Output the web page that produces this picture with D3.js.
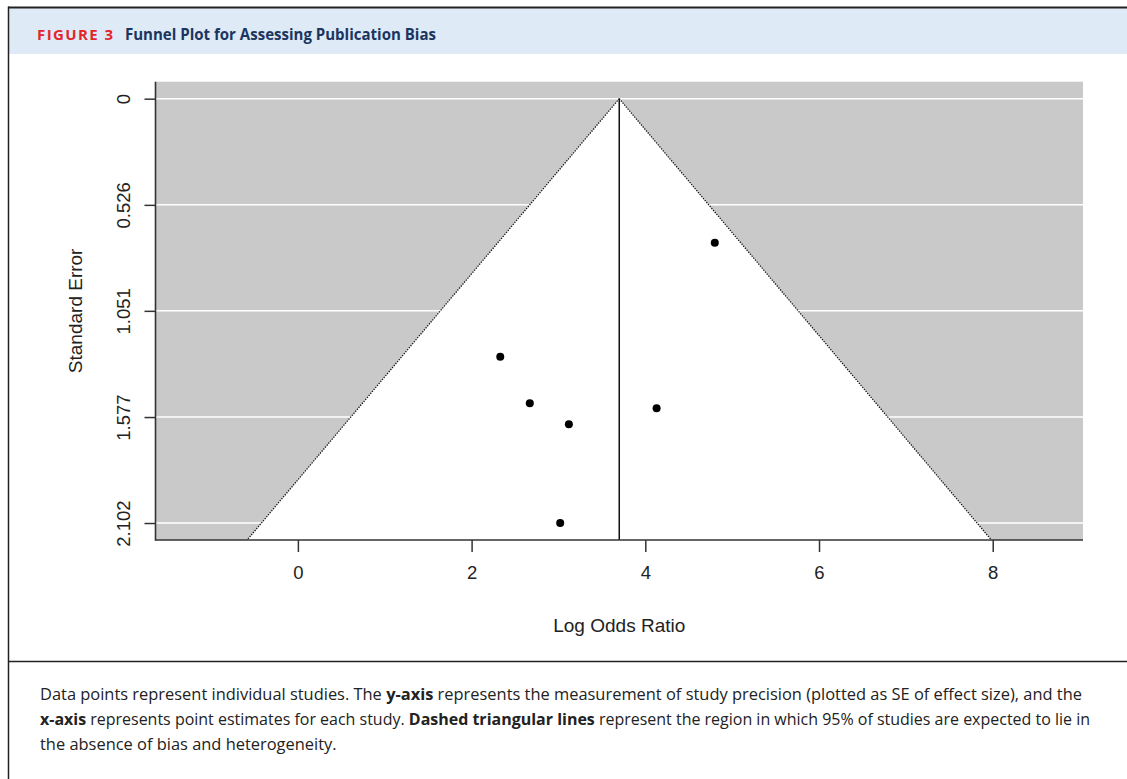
<!DOCTYPE html>
<html>
<head>
<meta charset="utf-8">
<script src="https://cdn.jsdelivr.net/npm/d3@7"></script>
<style>
  html, body { margin: 0; padding: 0; background: #ffffff; }
  svg { display: block; }
</style>
</head>
<body>
<svg id="chart" width="1127" height="779"></svg>
<script>
// ---------- data ----------
const studyLabels   = ["Study 1", "Study 2", "Study 3", "Study 4", "Study 5", "Study 6"];
const logOddsRatios = [2.33, 2.67, 3.12, 3.02, 4.13, 4.80];
const standardErrors = [1.278, 1.509, 1.613, 2.102, 1.534, 0.714];
const pooledEstimate = 3.70;
const yTickValues = [0, 0.526, 1.051, 1.577, 2.102];
const yTickLabels = ["0", "0.526", "1.051", "1.577", "2.102"];
const xTickValues = [0, 2, 4, 6, 8];
const xTitle = "Log Odds Ratio";
const yTitle = "Standard Error";
const figureLabel = "FIGURE 3";
const figureTitle = "Funnel Plot for Assessing Publication Bias";
const captionLines = [
  [["Data points represent individual studies. The ", false], ["y-axis", true], [" represents the measurement of study precision (plotted as SE of effect size), and the", false]],
  [["x-axis", true], [" represents point estimates for each study. ", false], ["Dashed triangular lines", true], [" represent the region in which 95% of studies are expected to lie in", false]],
  [["the absence of bias and heterogeneity.", false]]
];

// ---------- layout ----------
const svg = d3.select("#chart");
const W = 1127, H = 779;
const plot = { left: 155.5, right: 1083, top: 81.7, bottom: 540 };

// frame + header
svg.append("rect").attr("x", 8).attr("y", 8).attr("width", W - 8).attr("height", 46).attr("fill", "#deeaf6");
svg.append("line").attr("x1", 8).attr("x2", W).attr("y1", 7.5).attr("y2", 7.5).attr("stroke", "#222").attr("stroke-width", 2);
svg.append("line").attr("x1", 8.5).attr("x2", 8.5).attr("y1", 6.5).attr("y2", H).attr("stroke", "#222").attr("stroke-width", 1.5);
svg.append("line").attr("x1", 8).attr("x2", W).attr("y1", 661.5).attr("y2", 661.5).attr("stroke", "#222").attr("stroke-width", 1.5);

svg.append("text").attr("x", 37).attr("y", 39.5)
  .attr("font-family", "'Open Sans', 'Noto Sans', sans-serif").attr("font-weight", 700)
  .attr("font-size", 15).attr("fill", "#e2262c")
  .attr("textLength", 76).attr("lengthAdjust", "spacing")
  .text(figureLabel);
svg.append("text").attr("x", 125).attr("y", 39.5)
  .attr("font-family", "'Open Sans', 'Noto Sans', sans-serif").attr("font-weight", 700)
  .attr("font-size", 16).attr("fill", "#1b3560")
  .attr("textLength", 311).attr("lengthAdjust", "spacingAndGlyphs")
  .text(figureTitle);

// ---------- scales (R / metafor style limits) ----------
const maxSE = d3.max(standardErrors);
let xl = [
  Math.min(d3.min(logOddsRatios), pooledEstimate - 1.96 * maxSE),
  Math.max(d3.max(logOddsRatios), pooledEstimate + 1.96 * maxSE)
];
let rx = xl[1] - xl[0];
xl = [xl[0] - 0.1 * rx, xl[1] + 0.1 * rx];
rx = xl[1] - xl[0];
xl = [xl[0] - 0.04 * rx, xl[1] + 0.04 * rx];
const yl = [0 - 0.04 * maxSE, maxSE + 0.04 * maxSE];

const x = d3.scaleLinear().domain(xl).range([plot.left, plot.right]);
const y = d3.scaleLinear().domain(yl).range([plot.top, plot.bottom]);

const g = svg.append("g");

// gray background
g.append("rect")
  .attr("x", x(xl[0])).attr("y", y(yl[0]))
  .attr("width", x(xl[1]) - x(xl[0])).attr("height", y(yl[1]) - y(yl[0]))
  .attr("fill", "#c9c9c9");

// white grid lines
g.selectAll("line.grid").data(yTickValues).join("line")
  .attr("class", "grid")
  .attr("x1", x(xl[0])).attr("x2", x(xl[1]))
  .attr("y1", d => y(d)).attr("y2", d => y(d))
  .attr("stroke", "#ffffff").attr("stroke-width", 1.5);

// white funnel region
const seBottom = yl[1];
const funnelPts = [
  [pooledEstimate, 0],
  [pooledEstimate + 1.96 * seBottom, seBottom],
  [pooledEstimate - 1.96 * seBottom, seBottom]
];
g.append("path")
  .attr("d", d3.line().x(d => x(d[0])).y(d => y(d[1]))(funnelPts) + "Z")
  .attr("fill", "#ffffff");

// dotted funnel edges
[[funnelPts[0], funnelPts[1]], [funnelPts[0], funnelPts[2]]].forEach(seg => {
  g.append("line")
    .attr("x1", x(seg[0][0])).attr("y1", y(seg[0][1]))
    .attr("x2", x(seg[1][0])).attr("y2", y(seg[1][1]))
    .attr("stroke", "#111").attr("stroke-width", 1.3)
    .attr("stroke-dasharray", "1.3,1.3");
});

// vertical line at pooled estimate
g.append("line")
  .attr("x1", x(pooledEstimate)).attr("x2", x(pooledEstimate))
  .attr("y1", y(0)).attr("y2", y(yl[1]))
  .attr("stroke", "#111").attr("stroke-width", 1.5);

// points
g.selectAll("circle.pt").data(logOddsRatios.map((v, i) => ({ lab: studyLabels[i], x: v, se: standardErrors[i] })))
  .join("circle").attr("class", "pt")
  .attr("cx", d => x(d.x)).attr("cy", d => y(d.se))
  .attr("r", 4).attr("fill", "#000");

// axis box lines (L-shaped)
g.append("line").attr("x1", plot.left).attr("x2", plot.left).attr("y1", plot.top).attr("y2", plot.bottom + 0.8)
  .attr("stroke", "#333").attr("stroke-width", 1.6);
g.append("line").attr("x1", plot.left).attr("x2", plot.right).attr("y1", plot.bottom).attr("y2", plot.bottom)
  .attr("stroke", "#333").attr("stroke-width", 1.6);

// axes
const fontFam = "'Liberation Sans', Arial, sans-serif";
const xAxis = d3.axisBottom(x).tickValues(xTickValues).tickFormat(d3.format("d")).tickSize(12).tickPadding(14);
const xg = svg.append("g").attr("transform", `translate(0,${plot.bottom})`).call(xAxis);
xg.select(".domain").remove();
xg.selectAll(".tick line").attr("stroke", "#333").attr("stroke-width", 1.5);
xg.selectAll(".tick text").attr("font-family", fontFam).attr("font-size", 18.5).attr("fill", "#222");

const yAxis = d3.axisLeft(y).tickValues(yTickValues).tickFormat((d, i) => yTickLabels[i]).tickSize(11).tickPadding(0);
const yg = svg.append("g").attr("transform", `translate(${plot.left},0)`).call(yAxis);
yg.select(".domain").remove();
yg.selectAll(".tick line").attr("stroke", "#333").attr("stroke-width", 1.5);
yg.selectAll(".tick text")
  .attr("font-family", fontFam).attr("font-size", 18.5).attr("fill", "#222")
  .attr("x", null).attr("dy", null)
  .attr("text-anchor", "middle")
  .attr("transform", "translate(-26,0) rotate(-90)");

// axis titles
svg.append("text").attr("x", (plot.left + plot.right) / 2).attr("y", 632)
  .attr("text-anchor", "middle").attr("font-family", fontFam).attr("font-size", 19).attr("fill", "#222")
  .text(xTitle);
svg.append("text")
  .attr("transform", `translate(82,${(plot.top + plot.bottom) / 2}) rotate(-90)`)
  .attr("text-anchor", "middle").attr("font-family", fontFam).attr("font-size", 19).attr("fill", "#222")
  .text(yTitle);

// ---------- caption ----------
const capFont = "'Open Sans', 'Noto Sans', sans-serif";
const capBaselines = [700, 725, 750];
const capWidths = [1043, 1050, null];
const capNodes = captionLines.map((parts, li) => {
  const t = svg.append("text").attr("x", 40).attr("y", capBaselines[li])
    .attr("font-family", capFont).attr("font-size", 15).attr("fill", "#222");
  parts.forEach(([s, b]) => t.append("tspan").attr("font-weight", b ? 700 : 400).text(s));
  return t;
});
// fit size so first line spans the measured width
const w0 = capNodes[0].node().getComputedTextLength();
const fs = 15 * 1043 / w0;
capNodes.forEach((t, i) => {
  t.attr("font-size", fs);
  if (capWidths[i]) {
    const w = t.node().getComputedTextLength();
    if (Math.abs(w - capWidths[i]) > 2) t.attr("textLength", capWidths[i]).attr("lengthAdjust", "spacingAndGlyphs");
  }
});
</script>
</body>
</html>
